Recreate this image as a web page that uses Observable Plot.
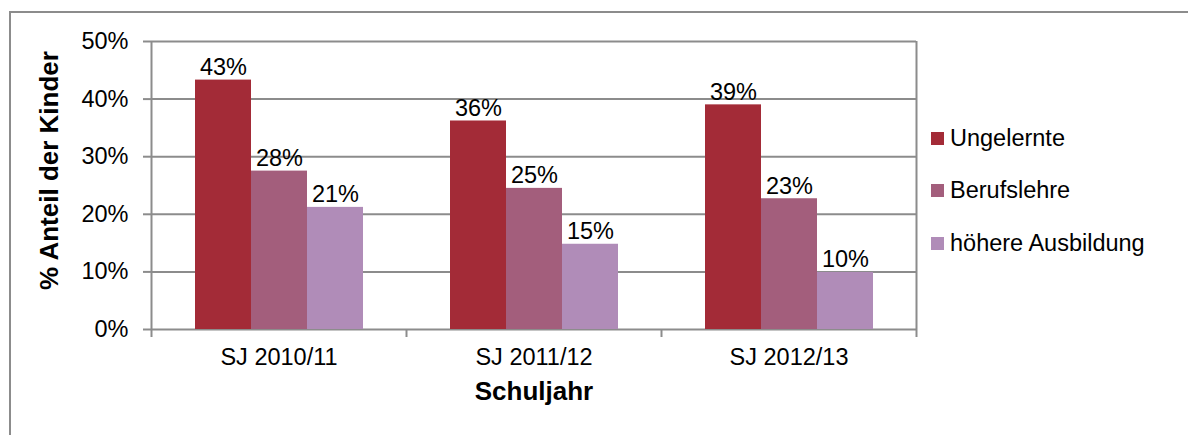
<!DOCTYPE html>
<html><head><meta charset="utf-8">
<script src="https://cdn.jsdelivr.net/npm/d3@7"></script>
<script src="https://cdn.jsdelivr.net/npm/@observablehq/plot@0.6"></script>
<style>
body{margin:0;background:#fff}
#chart{position:relative;width:1188px;height:435px;overflow:hidden;font-family:"Liberation Sans",Arial,sans-serif}
#chart svg.plotlayer{position:absolute;left:0;top:0}
#frame{position:absolute;left:9px;top:11px;width:1300px;height:500px;border-top:2px solid #8c8c8c;border-left:2px solid #8c8c8c}
#legend{position:absolute;left:931px;top:112px}
.lg-swatches{font-family:"Liberation Sans",Arial,sans-serif;font-size:23.5px;margin:0;color:#000}
.lg-swatch{height:52.5px;padding:0 !important;margin:0}
.lg-swatch > svg{margin-right:6px}
</style></head>
<body>
<div id="chart"><div id="frame"></div><div id="legend"></div></div>
<script>
// ---- data ----
const years = ["SJ 2010/11", "SJ 2011/12", "SJ 2012/13"];
const series = ["Ungelernte", "Berufslehre", "höhere Ausbildung"];
const ungelernte = [43.3, 36.2, 39.0];
const berufslehre = [27.5, 24.5, 22.7];
const hoehereAusbildung = [21.2, 14.8, 9.9];
const yTicks = [0, 10, 20, 30, 40, 50];
const colors = ["#a32b37", "#a35e7c", "#b08cb8"];
const yTitle = "% Anteil der Kinder";
const xTitle = "Schuljahr";

const valuesBySeries = [ungelernte, berufslehre, hoehereAusbildung];
const data = years.flatMap((yr, i) => series.map((s, j) => ({year: yr, series: s, value: valuesBySeries[j][i]})));
const boundaries = d3.range(years.length + 1);

const W = 1188, H = 435;
const margins = {marginLeft: 151, marginRight: 272, marginTop: 41, marginBottom: 106};
const font = "'Liberation Sans', Arial, sans-serif";
const grid = "#8c8c8c";

// background: grid, axes, titles
const back = Plot.plot({
  width: W, height: H, ...margins,
  style: {fontFamily: font, fontSize: "23.5px", color: "#000", background: "transparent", overflow: "visible"},
  x: {domain: [0, years.length]},
  y: {domain: [0, 50]},
  marks: [
    Plot.ruleY(yTicks, {stroke: grid, strokeWidth: 2}),
    Plot.ruleX([0, years.length], {stroke: grid, strokeWidth: 2}),
    Plot.axisY(yTicks, {anchor: "left", tickSize: 8, tickPadding: 15, tickFormat: d => d + "%", stroke: grid, strokeWidth: 2, fill: "#000", label: null}),
    Plot.axisX(boundaries, {anchor: "bottom", tickSize: 8, tickFormat: () => "", stroke: grid, strokeWidth: 2, label: null}),
    Plot.text([yTitle], {frameAnchor: "left", textAnchor: "middle", lineAnchor: "middle", rotate: -90, dx: -102, dy: -15, fontWeight: "bold", fontSize: 26, fill: "#000"}),
    Plot.text([xTitle], {frameAnchor: "bottom", dy: 70, fontWeight: "bold", fontSize: 26, fill: "#000"})
  ]
});
back.classList.add("plotlayer");

// bars
const bars = Plot.plot({
  width: W, height: H, ...margins,
  style: {fontFamily: font, fontSize: "23.5px", color: "#000", background: "transparent", overflow: "visible"},
  fx: {domain: years, padding: 0},
  x: {domain: series, paddingInner: 0, paddingOuter: 0.75, axis: null},
  y: {domain: [0, 50], axis: null},
  color: {domain: series, range: colors},
  marks: [
    Plot.barY(data, {fx: "year", x: "series", y: "value", fill: "series"}),
    Plot.text(data, {fx: "year", x: "series", y: "value", text: d => Math.round(d.value) + "%", lineAnchor: "bottom", dy: -5, fill: "#000"}),
    Plot.axisFx({anchor: "bottom", tickSize: 0, tickPadding: 19, label: null, fill: "#000"})
  ]
});
bars.classList.add("plotlayer");

const chart = document.getElementById("chart");
chart.appendChild(back);
chart.appendChild(bars);

const leg = Plot.legend({color: {domain: series, range: colors}, legend: "swatches", columns: 1, swatchSize: 13, className: "lg"});
document.getElementById("legend").appendChild(leg);
</script>
</body></html>
